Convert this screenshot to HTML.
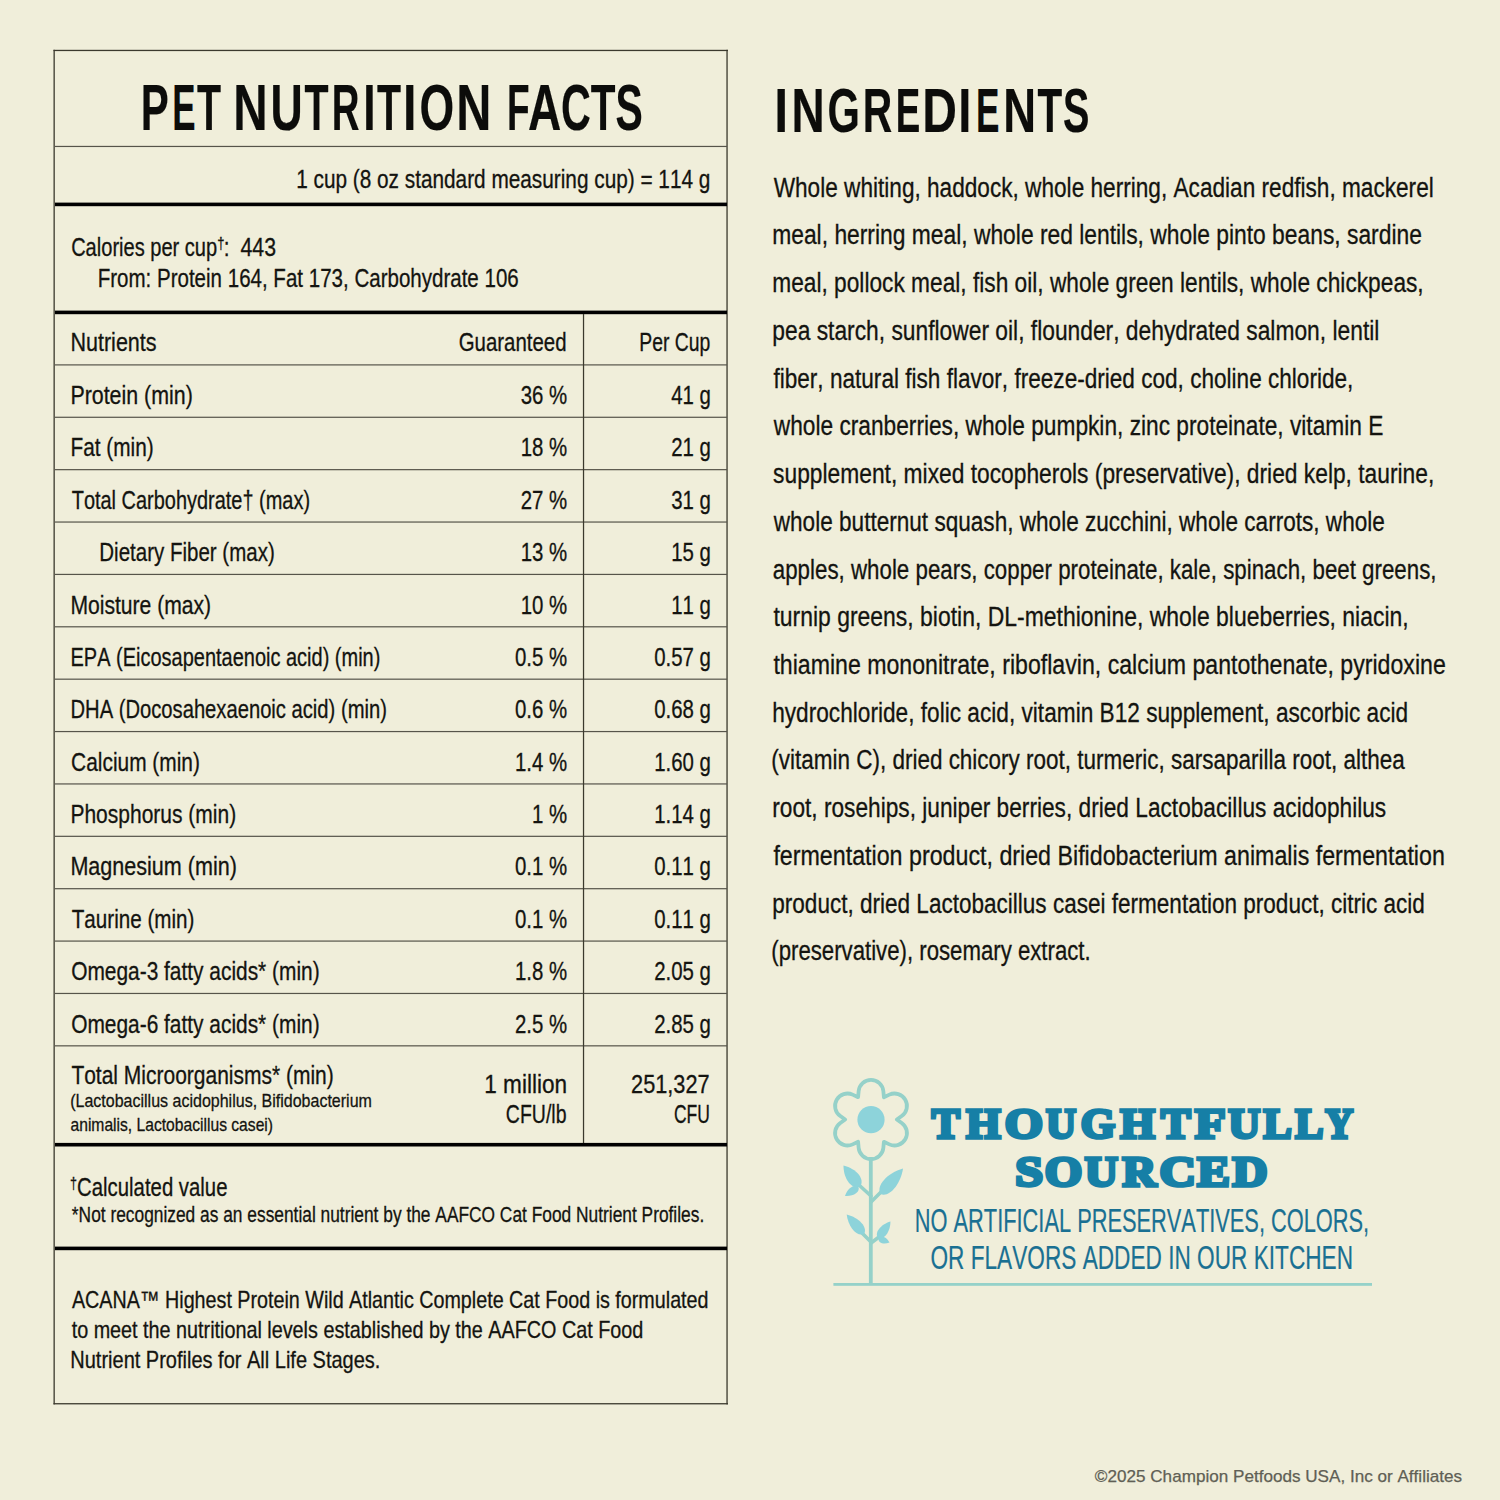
<!DOCTYPE html>
<html><head><meta charset="utf-8"><style>
html,body{margin:0;padding:0;background:#f0eeda;}
body{width:1500px;height:1500px;overflow:hidden;position:relative;}
svg{position:absolute;left:0;top:0;}
text{font-kerning:none;font-variant-ligatures:none;white-space:pre;}
</style></head><body>
<svg width="1500" height="1500" viewBox="0 0 1500 1500">
<rect x="53.5" y="49.8" width="674.5" height="1.3" fill="#3b392d"/>
<rect x="53.5" y="1403.1" width="674.5" height="1.3" fill="#3b392d"/>
<rect x="53.5" y="49.8" width="1.3" height="1354.6" fill="#3b392d"/>
<rect x="726.4" y="49.8" width="1.3" height="1354.6" fill="#3b392d"/>
<rect x="55" y="145.85" width="672" height="1.2" fill="#56544a"/>
<rect x="55" y="202.6" width="672" height="3.6" fill="#000"/>
<rect x="55" y="310.6" width="672" height="3.6" fill="#000"/>
<rect x="55" y="364.3" width="672" height="1.2" fill="#56544a"/>
<rect x="55" y="416.68" width="672" height="1.2" fill="#56544a"/>
<rect x="55" y="469.06" width="672" height="1.2" fill="#56544a"/>
<rect x="55" y="521.44" width="672" height="1.2" fill="#56544a"/>
<rect x="55" y="573.82" width="672" height="1.2" fill="#56544a"/>
<rect x="55" y="626.2" width="672" height="1.2" fill="#56544a"/>
<rect x="55" y="678.58" width="672" height="1.2" fill="#56544a"/>
<rect x="55" y="730.96" width="672" height="1.2" fill="#56544a"/>
<rect x="55" y="783.34" width="672" height="1.2" fill="#56544a"/>
<rect x="55" y="835.72" width="672" height="1.2" fill="#56544a"/>
<rect x="55" y="888.1" width="672" height="1.2" fill="#56544a"/>
<rect x="55" y="940.48" width="672" height="1.2" fill="#56544a"/>
<rect x="55" y="992.86" width="672" height="1.2" fill="#56544a"/>
<rect x="55" y="1045.24" width="672" height="1.2" fill="#56544a"/>
<rect x="582.9" y="314" width="1.25" height="829" fill="#3b392d"/>
<rect x="55" y="1142.9" width="672" height="3.6" fill="#000"/>
<rect x="55" y="1246.6" width="672" height="3.6" fill="#000"/>
<path d="M883.90 1097.16 L883.90 1097.16 L883.35 1091.16 A12.40 12.40 0 0 0 858.65 1091.16 L858.10 1097.16 L858.10 1097.16 L852.63 1094.64 A12.40 12.40 0 0 0 840.28 1116.02 L845.20 1119.50 L845.20 1119.50 L840.28 1122.98 A12.40 12.40 0 0 0 852.63 1144.36 L858.10 1141.84 L858.10 1141.84 L858.65 1147.84 A12.40 12.40 0 0 0 883.35 1147.84 L883.90 1141.84 L883.90 1141.84 L889.37 1144.36 A12.40 12.40 0 0 0 901.72 1122.98 L896.80 1119.50 L896.80 1119.50 L901.72 1116.02 A12.40 12.40 0 0 0 889.37 1094.64 L883.90 1097.16Z" fill="none" stroke="#95d1c9" stroke-width="3.8" stroke-linejoin="round"/>
<circle cx="871" cy="1119.7" r="13.6" fill="#8dd3da"/>
<rect x="868.9" y="1157" width="3.8" height="128" fill="#95d1c9"/>
<rect x="833.4" y="1283" width="538.6" height="2.8" fill="#95d1c9"/>
<path d="M871 1196 L859 1185" stroke="#95d1c9" stroke-width="3.6" stroke-linecap="round" fill="none"/>
<path d="M871 1202 L882 1191" stroke="#95d1c9" stroke-width="3.6" stroke-linecap="round" fill="none"/>
<path d="M871 1242 L862 1233" stroke="#95d1c9" stroke-width="3.6" stroke-linecap="round" fill="none"/>
<path d="M871 1243 L879 1237" stroke="#95d1c9" stroke-width="3.6" stroke-linecap="round" fill="none"/>
<path d="M860.00 1186.50 C865.37 1179.57 856.79 1168.65 843.50 1165.50 C843.41 1179.15 851.99 1190.07 860.00 1186.50 Z" fill="#8dd3da"/>
<path d="M858.50 1187.00 C854.57 1183.45 847.55 1188.13 845.00 1196.00 C853.25 1196.67 860.27 1191.99 858.50 1187.00 Z" fill="#8dd3da"/>
<path d="M880.50 1194.00 C888.98 1197.86 900.68 1184.60 903.00 1168.50 C887.32 1172.80 875.62 1186.06 880.50 1194.00 Z" fill="#8dd3da"/>
<path d="M864.00 1234.00 C868.07 1227.60 859.07 1217.46 846.70 1214.50 C848.17 1227.14 857.16 1237.28 864.00 1234.00 Z" fill="#8dd3da"/>
<path d="M878.00 1238.00 C883.95 1240.43 890.45 1231.85 890.50 1221.50 C880.55 1224.35 874.05 1232.93 878.00 1238.00 Z" fill="#8dd3da"/>
<path d="M878.50 1238.50 C877.90 1242.88 883.62 1244.96 889.50 1242.50 C886.58 1236.84 880.86 1234.76 878.50 1238.50 Z" fill="#8dd3da"/>
<text x="140.69" y="129.70" font-family="'Liberation Sans', sans-serif" font-weight="700" font-size="64.50" fill="#0c0c0a" textLength="28.05" lengthAdjust="spacingAndGlyphs"  stroke="#0c0c0a" stroke-width="0.20" stroke-linejoin="miter">P</text>
<text x="172.36" y="129.70" font-family="'Liberation Sans', sans-serif" font-weight="700" font-size="64.50" fill="#0c0c0a" textLength="23.30" lengthAdjust="spacingAndGlyphs"  stroke="#0c0c0a" stroke-width="0.20" stroke-linejoin="miter">E</text>
<text x="197.06" y="129.70" font-family="'Liberation Sans', sans-serif" font-weight="700" font-size="64.50" fill="#0c0c0a" textLength="24.07" lengthAdjust="spacingAndGlyphs"  stroke="#0c0c0a" stroke-width="0.20" stroke-linejoin="miter">T</text>
<text x="233.31" y="129.70" font-family="'Liberation Sans', sans-serif" font-weight="700" font-size="64.50" fill="#0c0c0a" textLength="34.40" lengthAdjust="spacingAndGlyphs"  stroke="#0c0c0a" stroke-width="0.20" stroke-linejoin="miter">N</text>
<text x="270.42" y="129.70" font-family="'Liberation Sans', sans-serif" font-weight="700" font-size="64.50" fill="#0c0c0a" textLength="32.20" lengthAdjust="spacingAndGlyphs"  stroke="#0c0c0a" stroke-width="0.20" stroke-linejoin="miter">U</text>
<text x="304.46" y="129.70" font-family="'Liberation Sans', sans-serif" font-weight="700" font-size="64.50" fill="#0c0c0a" textLength="24.07" lengthAdjust="spacingAndGlyphs"  stroke="#0c0c0a" stroke-width="0.20" stroke-linejoin="miter">T</text>
<text x="331.73" y="129.70" font-family="'Liberation Sans', sans-serif" font-weight="700" font-size="64.50" fill="#0c0c0a" textLength="27.76" lengthAdjust="spacingAndGlyphs"  stroke="#0c0c0a" stroke-width="0.20" stroke-linejoin="miter">R</text>
<text x="363.13" y="129.70" font-family="'Liberation Sans', sans-serif" font-weight="700" font-size="64.50" fill="#0c0c0a" textLength="12.34" lengthAdjust="spacingAndGlyphs"  stroke="#0c0c0a" stroke-width="0.20" stroke-linejoin="miter">I</text>
<text x="377.06" y="129.70" font-family="'Liberation Sans', sans-serif" font-weight="700" font-size="64.50" fill="#0c0c0a" textLength="24.07" lengthAdjust="spacingAndGlyphs"  stroke="#0c0c0a" stroke-width="0.20" stroke-linejoin="miter">T</text>
<text x="403.05" y="129.70" font-family="'Liberation Sans', sans-serif" font-weight="700" font-size="64.50" fill="#0c0c0a" textLength="13.50" lengthAdjust="spacingAndGlyphs"  stroke="#0c0c0a" stroke-width="0.20" stroke-linejoin="miter">I</text>
<text x="419.47" y="129.70" font-family="'Liberation Sans', sans-serif" font-weight="700" font-size="64.50" fill="#0c0c0a" textLength="34.70" lengthAdjust="spacingAndGlyphs"  stroke="#0c0c0a" stroke-width="0.20" stroke-linejoin="miter">O</text>
<text x="456.25" y="129.70" font-family="'Liberation Sans', sans-serif" font-weight="700" font-size="64.50" fill="#0c0c0a" textLength="35.13" lengthAdjust="spacingAndGlyphs"  stroke="#0c0c0a" stroke-width="0.20" stroke-linejoin="miter">N</text>
<text x="507.12" y="129.70" font-family="'Liberation Sans', sans-serif" font-weight="700" font-size="64.50" fill="#0c0c0a" textLength="22.64" lengthAdjust="spacingAndGlyphs"  stroke="#0c0c0a" stroke-width="0.20" stroke-linejoin="miter">F</text>
<text x="527.95" y="129.70" font-family="'Liberation Sans', sans-serif" font-weight="700" font-size="64.50" fill="#0c0c0a" textLength="33.26" lengthAdjust="spacingAndGlyphs"  stroke="#0c0c0a" stroke-width="0.20" stroke-linejoin="miter">A</text>
<text x="561.11" y="129.70" font-family="'Liberation Sans', sans-serif" font-weight="700" font-size="64.50" fill="#0c0c0a" textLength="29.82" lengthAdjust="spacingAndGlyphs"  stroke="#0c0c0a" stroke-width="0.20" stroke-linejoin="miter">C</text>
<text x="590.85" y="129.70" font-family="'Liberation Sans', sans-serif" font-weight="700" font-size="64.50" fill="#0c0c0a" textLength="24.69" lengthAdjust="spacingAndGlyphs"  stroke="#0c0c0a" stroke-width="0.20" stroke-linejoin="miter">T</text>
<text x="615.42" y="129.70" font-family="'Liberation Sans', sans-serif" font-weight="700" font-size="64.50" fill="#0c0c0a" textLength="27.28" lengthAdjust="spacingAndGlyphs"  stroke="#0c0c0a" stroke-width="0.20" stroke-linejoin="miter">S</text>
<text x="296.17" y="187.80" font-family="'Liberation Sans', sans-serif" font-weight="400" font-size="25.50" fill="#141410" textLength="414.22" lengthAdjust="spacingAndGlyphs"  stroke="#141410" stroke-width="0.30" stroke-linejoin="miter">1 cup (8 oz standard measuring cup) = 114 g</text>
<text x="71.13" y="255.70" font-family="'Liberation Sans', sans-serif" font-weight="400" font-size="25.50" fill="#141410" textLength="146.06" lengthAdjust="spacingAndGlyphs"  stroke="#141410" stroke-width="0.30" stroke-linejoin="miter">Calories per cup</text>
<text x="217.27" y="248.60" font-family="'Liberation Sans', sans-serif" font-weight="400" font-size="16.00" fill="#141410" textLength="7.25" lengthAdjust="spacingAndGlyphs"  stroke="#141410" stroke-width="0.30" stroke-linejoin="miter">†</text>
<text x="223.84" y="255.70" font-family="'Liberation Sans', sans-serif" font-weight="400" font-size="25.50" fill="#141410" textLength="5.81" lengthAdjust="spacingAndGlyphs"  stroke="#141410" stroke-width="0.30" stroke-linejoin="miter">:</text>
<text x="240.46" y="255.70" font-family="'Liberation Sans', sans-serif" font-weight="400" font-size="25.50" fill="#141410" textLength="35.52" lengthAdjust="spacingAndGlyphs"  stroke="#141410" stroke-width="0.30" stroke-linejoin="miter">443</text>
<text x="97.67" y="286.60" font-family="'Liberation Sans', sans-serif" font-weight="400" font-size="25.50" fill="#141410" textLength="421.09" lengthAdjust="spacingAndGlyphs"  stroke="#141410" stroke-width="0.30" stroke-linejoin="miter">From: Protein 164, Fat 173, Carbohydrate 106</text>
<text x="70.38" y="351.40" font-family="'Liberation Sans', sans-serif" font-weight="400" font-size="25.50" fill="#141410" textLength="86.25" lengthAdjust="spacingAndGlyphs"  stroke="#141410" stroke-width="0.30" stroke-linejoin="miter">Nutrients</text>
<text x="458.72" y="351.40" font-family="'Liberation Sans', sans-serif" font-weight="400" font-size="25.50" fill="#141410" textLength="107.84" lengthAdjust="spacingAndGlyphs"  stroke="#141410" stroke-width="0.30" stroke-linejoin="miter">Guaranteed</text>
<text x="639.26" y="351.40" font-family="'Liberation Sans', sans-serif" font-weight="400" font-size="25.50" fill="#141410" textLength="71.10" lengthAdjust="spacingAndGlyphs"  stroke="#141410" stroke-width="0.30" stroke-linejoin="miter">Per Cup</text>
<text x="70.39" y="404.00" font-family="'Liberation Sans', sans-serif" font-weight="400" font-size="25.50" fill="#141410" textLength="122.48" lengthAdjust="spacingAndGlyphs"  stroke="#141410" stroke-width="0.30" stroke-linejoin="miter">Protein (min)</text>
<text x="520.68" y="404.00" font-family="'Liberation Sans', sans-serif" font-weight="400" font-size="25.50" fill="#141410" textLength="46.50" lengthAdjust="spacingAndGlyphs"  stroke="#141410" stroke-width="0.30" stroke-linejoin="miter">36 %</text>
<text x="671.16" y="404.00" font-family="'Liberation Sans', sans-serif" font-weight="400" font-size="25.50" fill="#141410" textLength="39.70" lengthAdjust="spacingAndGlyphs"  stroke="#141410" stroke-width="0.30" stroke-linejoin="miter">41 g</text>
<text x="70.44" y="456.38" font-family="'Liberation Sans', sans-serif" font-weight="400" font-size="25.50" fill="#141410" textLength="83.20" lengthAdjust="spacingAndGlyphs"  stroke="#141410" stroke-width="0.30" stroke-linejoin="miter">Fat (min)</text>
<text x="520.68" y="456.38" font-family="'Liberation Sans', sans-serif" font-weight="400" font-size="25.50" fill="#141410" textLength="46.50" lengthAdjust="spacingAndGlyphs"  stroke="#141410" stroke-width="0.30" stroke-linejoin="miter">18 %</text>
<text x="671.16" y="456.38" font-family="'Liberation Sans', sans-serif" font-weight="400" font-size="25.50" fill="#141410" textLength="39.70" lengthAdjust="spacingAndGlyphs"  stroke="#141410" stroke-width="0.30" stroke-linejoin="miter">21 g</text>
<text x="71.70" y="508.76" font-family="'Liberation Sans', sans-serif" font-weight="400" font-size="25.50" fill="#141410" textLength="238.39" lengthAdjust="spacingAndGlyphs"  stroke="#141410" stroke-width="0.30" stroke-linejoin="miter">Total Carbohydrate† (max)</text>
<text x="520.68" y="508.76" font-family="'Liberation Sans', sans-serif" font-weight="400" font-size="25.50" fill="#141410" textLength="46.50" lengthAdjust="spacingAndGlyphs"  stroke="#141410" stroke-width="0.30" stroke-linejoin="miter">27 %</text>
<text x="671.16" y="508.76" font-family="'Liberation Sans', sans-serif" font-weight="400" font-size="25.50" fill="#141410" textLength="39.70" lengthAdjust="spacingAndGlyphs"  stroke="#141410" stroke-width="0.30" stroke-linejoin="miter">31 g</text>
<text x="99.27" y="561.14" font-family="'Liberation Sans', sans-serif" font-weight="400" font-size="25.50" fill="#141410" textLength="175.45" lengthAdjust="spacingAndGlyphs"  stroke="#141410" stroke-width="0.30" stroke-linejoin="miter">Dietary Fiber (max)</text>
<text x="520.68" y="561.14" font-family="'Liberation Sans', sans-serif" font-weight="400" font-size="25.50" fill="#141410" textLength="46.50" lengthAdjust="spacingAndGlyphs"  stroke="#141410" stroke-width="0.30" stroke-linejoin="miter">13 %</text>
<text x="671.16" y="561.14" font-family="'Liberation Sans', sans-serif" font-weight="400" font-size="25.50" fill="#141410" textLength="39.70" lengthAdjust="spacingAndGlyphs"  stroke="#141410" stroke-width="0.30" stroke-linejoin="miter">15 g</text>
<text x="70.42" y="613.52" font-family="'Liberation Sans', sans-serif" font-weight="400" font-size="25.50" fill="#141410" textLength="140.74" lengthAdjust="spacingAndGlyphs"  stroke="#141410" stroke-width="0.30" stroke-linejoin="miter">Moisture (max)</text>
<text x="520.68" y="613.52" font-family="'Liberation Sans', sans-serif" font-weight="400" font-size="25.50" fill="#141410" textLength="46.50" lengthAdjust="spacingAndGlyphs"  stroke="#141410" stroke-width="0.30" stroke-linejoin="miter">10 %</text>
<text x="671.16" y="613.52" font-family="'Liberation Sans', sans-serif" font-weight="400" font-size="25.50" fill="#141410" textLength="39.70" lengthAdjust="spacingAndGlyphs"  stroke="#141410" stroke-width="0.30" stroke-linejoin="miter">11 g</text>
<text x="70.51" y="665.90" font-family="'Liberation Sans', sans-serif" font-weight="400" font-size="25.50" fill="#141410" textLength="309.88" lengthAdjust="spacingAndGlyphs"  stroke="#141410" stroke-width="0.30" stroke-linejoin="miter">EPA (Eicosapentaenoic acid) (min)</text>
<text x="515.01" y="665.90" font-family="'Liberation Sans', sans-serif" font-weight="400" font-size="25.50" fill="#141410" textLength="52.17" lengthAdjust="spacingAndGlyphs"  stroke="#141410" stroke-width="0.30" stroke-linejoin="miter">0.5 %</text>
<text x="654.15" y="665.90" font-family="'Liberation Sans', sans-serif" font-weight="400" font-size="25.50" fill="#141410" textLength="56.72" lengthAdjust="spacingAndGlyphs"  stroke="#141410" stroke-width="0.30" stroke-linejoin="miter">0.57 g</text>
<text x="70.49" y="718.28" font-family="'Liberation Sans', sans-serif" font-weight="400" font-size="25.50" fill="#141410" textLength="316.41" lengthAdjust="spacingAndGlyphs"  stroke="#141410" stroke-width="0.30" stroke-linejoin="miter">DHA (Docosahexaenoic acid) (min)</text>
<text x="515.01" y="718.28" font-family="'Liberation Sans', sans-serif" font-weight="400" font-size="25.50" fill="#141410" textLength="52.17" lengthAdjust="spacingAndGlyphs"  stroke="#141410" stroke-width="0.30" stroke-linejoin="miter">0.6 %</text>
<text x="654.15" y="718.28" font-family="'Liberation Sans', sans-serif" font-weight="400" font-size="25.50" fill="#141410" textLength="56.72" lengthAdjust="spacingAndGlyphs"  stroke="#141410" stroke-width="0.30" stroke-linejoin="miter">0.68 g</text>
<text x="71.09" y="770.66" font-family="'Liberation Sans', sans-serif" font-weight="400" font-size="25.50" fill="#141410" textLength="128.86" lengthAdjust="spacingAndGlyphs"  stroke="#141410" stroke-width="0.30" stroke-linejoin="miter">Calcium (min)</text>
<text x="515.01" y="770.66" font-family="'Liberation Sans', sans-serif" font-weight="400" font-size="25.50" fill="#141410" textLength="52.17" lengthAdjust="spacingAndGlyphs"  stroke="#141410" stroke-width="0.30" stroke-linejoin="miter">1.4 %</text>
<text x="654.15" y="770.66" font-family="'Liberation Sans', sans-serif" font-weight="400" font-size="25.50" fill="#141410" textLength="56.72" lengthAdjust="spacingAndGlyphs"  stroke="#141410" stroke-width="0.30" stroke-linejoin="miter">1.60 g</text>
<text x="70.43" y="823.04" font-family="'Liberation Sans', sans-serif" font-weight="400" font-size="25.50" fill="#141410" textLength="165.72" lengthAdjust="spacingAndGlyphs"  stroke="#141410" stroke-width="0.30" stroke-linejoin="miter">Phosphorus (min)</text>
<text x="532.03" y="823.04" font-family="'Liberation Sans', sans-serif" font-weight="400" font-size="25.50" fill="#141410" textLength="35.15" lengthAdjust="spacingAndGlyphs"  stroke="#141410" stroke-width="0.30" stroke-linejoin="miter">1 %</text>
<text x="654.15" y="823.04" font-family="'Liberation Sans', sans-serif" font-weight="400" font-size="25.50" fill="#141410" textLength="56.72" lengthAdjust="spacingAndGlyphs"  stroke="#141410" stroke-width="0.30" stroke-linejoin="miter">1.14 g</text>
<text x="70.38" y="875.42" font-family="'Liberation Sans', sans-serif" font-weight="400" font-size="25.50" fill="#141410" textLength="166.51" lengthAdjust="spacingAndGlyphs"  stroke="#141410" stroke-width="0.30" stroke-linejoin="miter">Magnesium (min)</text>
<text x="515.01" y="875.42" font-family="'Liberation Sans', sans-serif" font-weight="400" font-size="25.50" fill="#141410" textLength="52.17" lengthAdjust="spacingAndGlyphs"  stroke="#141410" stroke-width="0.30" stroke-linejoin="miter">0.1 %</text>
<text x="654.15" y="875.42" font-family="'Liberation Sans', sans-serif" font-weight="400" font-size="25.50" fill="#141410" textLength="56.72" lengthAdjust="spacingAndGlyphs"  stroke="#141410" stroke-width="0.30" stroke-linejoin="miter">0.11 g</text>
<text x="71.69" y="927.80" font-family="'Liberation Sans', sans-serif" font-weight="400" font-size="25.50" fill="#141410" textLength="122.74" lengthAdjust="spacingAndGlyphs"  stroke="#141410" stroke-width="0.30" stroke-linejoin="miter">Taurine (min)</text>
<text x="515.01" y="927.80" font-family="'Liberation Sans', sans-serif" font-weight="400" font-size="25.50" fill="#141410" textLength="52.17" lengthAdjust="spacingAndGlyphs"  stroke="#141410" stroke-width="0.30" stroke-linejoin="miter">0.1 %</text>
<text x="654.15" y="927.80" font-family="'Liberation Sans', sans-serif" font-weight="400" font-size="25.50" fill="#141410" textLength="56.72" lengthAdjust="spacingAndGlyphs"  stroke="#141410" stroke-width="0.30" stroke-linejoin="miter">0.11 g</text>
<text x="71.16" y="980.18" font-family="'Liberation Sans', sans-serif" font-weight="400" font-size="25.50" fill="#141410" textLength="248.49" lengthAdjust="spacingAndGlyphs"  stroke="#141410" stroke-width="0.30" stroke-linejoin="miter">Omega-3 fatty acids* (min)</text>
<text x="515.01" y="980.18" font-family="'Liberation Sans', sans-serif" font-weight="400" font-size="25.50" fill="#141410" textLength="52.17" lengthAdjust="spacingAndGlyphs"  stroke="#141410" stroke-width="0.30" stroke-linejoin="miter">1.8 %</text>
<text x="654.15" y="980.18" font-family="'Liberation Sans', sans-serif" font-weight="400" font-size="25.50" fill="#141410" textLength="56.72" lengthAdjust="spacingAndGlyphs"  stroke="#141410" stroke-width="0.30" stroke-linejoin="miter">2.05 g</text>
<text x="71.16" y="1032.56" font-family="'Liberation Sans', sans-serif" font-weight="400" font-size="25.50" fill="#141410" textLength="248.49" lengthAdjust="spacingAndGlyphs"  stroke="#141410" stroke-width="0.30" stroke-linejoin="miter">Omega-6 fatty acids* (min)</text>
<text x="515.01" y="1032.56" font-family="'Liberation Sans', sans-serif" font-weight="400" font-size="25.50" fill="#141410" textLength="52.17" lengthAdjust="spacingAndGlyphs"  stroke="#141410" stroke-width="0.30" stroke-linejoin="miter">2.5 %</text>
<text x="654.15" y="1032.56" font-family="'Liberation Sans', sans-serif" font-weight="400" font-size="25.50" fill="#141410" textLength="56.72" lengthAdjust="spacingAndGlyphs"  stroke="#141410" stroke-width="0.30" stroke-linejoin="miter">2.85 g</text>
<text x="71.38" y="1083.80" font-family="'Liberation Sans', sans-serif" font-weight="400" font-size="25.50" fill="#141410" textLength="262.37" lengthAdjust="spacingAndGlyphs"  stroke="#141410" stroke-width="0.30" stroke-linejoin="miter">Total Microorganisms* (min)</text>
<text x="70.16" y="1107.20" font-family="'Liberation Sans', sans-serif" font-weight="400" font-size="19.00" fill="#141410" textLength="301.75" lengthAdjust="spacingAndGlyphs"  stroke="#141410" stroke-width="0.30" stroke-linejoin="miter">(Lactobacillus acidophilus, Bifidobacterium</text>
<text x="70.49" y="1131.30" font-family="'Liberation Sans', sans-serif" font-weight="400" font-size="19.00" fill="#141410" textLength="202.53" lengthAdjust="spacingAndGlyphs"  stroke="#141410" stroke-width="0.30" stroke-linejoin="miter">animalis, Lactobacillus casei)</text>
<text x="484.23" y="1092.50" font-family="'Liberation Sans', sans-serif" font-weight="400" font-size="25.50" fill="#141410" textLength="82.89" lengthAdjust="spacingAndGlyphs"  stroke="#141410" stroke-width="0.30" stroke-linejoin="miter">1 million</text>
<text x="505.86" y="1123.00" font-family="'Liberation Sans', sans-serif" font-weight="400" font-size="25.50" fill="#141410" textLength="60.61" lengthAdjust="spacingAndGlyphs"  stroke="#141410" stroke-width="0.30" stroke-linejoin="miter">CFU/lb</text>
<text x="631.06" y="1092.50" font-family="'Liberation Sans', sans-serif" font-weight="400" font-size="25.50" fill="#141410" textLength="78.59" lengthAdjust="spacingAndGlyphs"  stroke="#141410" stroke-width="0.30" stroke-linejoin="miter">251,327</text>
<text x="673.96" y="1123.00" font-family="'Liberation Sans', sans-serif" font-weight="400" font-size="25.50" fill="#141410" textLength="35.94" lengthAdjust="spacingAndGlyphs"  stroke="#141410" stroke-width="0.30" stroke-linejoin="miter">CFU</text>
<text x="70.00" y="1188.80" font-family="'Liberation Sans', sans-serif" font-weight="400" font-size="16.00" fill="#141410" textLength="6.99" lengthAdjust="spacingAndGlyphs"  stroke="#141410" stroke-width="0.30" stroke-linejoin="miter">†</text>
<text x="77.12" y="1195.70" font-family="'Liberation Sans', sans-serif" font-weight="400" font-size="25.50" fill="#141410" textLength="150.34" lengthAdjust="spacingAndGlyphs"  stroke="#141410" stroke-width="0.30" stroke-linejoin="miter">Calculated value</text>
<text x="71.87" y="1222.00" font-family="'Liberation Sans', sans-serif" font-weight="400" font-size="22.00" fill="#141410" textLength="632.36" lengthAdjust="spacingAndGlyphs"  stroke="#141410" stroke-width="0.30" stroke-linejoin="miter">*Not recognized as an essential nutrient by the AAFCO Cat Food Nutrient Profiles.</text>
<text x="71.91" y="1308.00" font-family="'Liberation Sans', sans-serif" font-weight="400" font-size="24.00" fill="#141410" textLength="636.61" lengthAdjust="spacingAndGlyphs"  stroke="#141410" stroke-width="0.30" stroke-linejoin="miter">ACANA™ Highest Protein Wild Atlantic Complete Cat Food is formulated</text>
<text x="71.65" y="1337.80" font-family="'Liberation Sans', sans-serif" font-weight="400" font-size="24.00" fill="#141410" textLength="571.67" lengthAdjust="spacingAndGlyphs"  stroke="#141410" stroke-width="0.30" stroke-linejoin="miter">to meet the nutritional levels established by the AAFCO Cat Food</text>
<text x="70.31" y="1367.80" font-family="'Liberation Sans', sans-serif" font-weight="400" font-size="24.00" fill="#141410" textLength="310.07" lengthAdjust="spacingAndGlyphs"  stroke="#141410" stroke-width="0.30" stroke-linejoin="miter">Nutrient Profiles for All Life Stages.</text>
<text x="774.26" y="131.80" font-family="'Liberation Sans', sans-serif" font-weight="700" font-size="63.30" fill="#0c0c0a" textLength="13.89" lengthAdjust="spacingAndGlyphs"  stroke="#0c0c0a" stroke-width="0.20" stroke-linejoin="miter">I</text>
<text x="791.53" y="131.80" font-family="'Liberation Sans', sans-serif" font-weight="700" font-size="63.30" fill="#0c0c0a" textLength="33.17" lengthAdjust="spacingAndGlyphs"  stroke="#0c0c0a" stroke-width="0.20" stroke-linejoin="miter">N</text>
<text x="827.59" y="131.80" font-family="'Liberation Sans', sans-serif" font-weight="700" font-size="63.30" fill="#0c0c0a" textLength="32.39" lengthAdjust="spacingAndGlyphs"  stroke="#0c0c0a" stroke-width="0.20" stroke-linejoin="miter">G</text>
<text x="862.87" y="131.80" font-family="'Liberation Sans', sans-serif" font-weight="700" font-size="63.30" fill="#0c0c0a" textLength="29.47" lengthAdjust="spacingAndGlyphs"  stroke="#0c0c0a" stroke-width="0.20" stroke-linejoin="miter">R</text>
<text x="895.64" y="131.80" font-family="'Liberation Sans', sans-serif" font-weight="700" font-size="63.30" fill="#0c0c0a" textLength="24.49" lengthAdjust="spacingAndGlyphs"  stroke="#0c0c0a" stroke-width="0.20" stroke-linejoin="miter">E</text>
<text x="922.18" y="131.80" font-family="'Liberation Sans', sans-serif" font-weight="700" font-size="63.30" fill="#0c0c0a" textLength="34.74" lengthAdjust="spacingAndGlyphs"  stroke="#0c0c0a" stroke-width="0.20" stroke-linejoin="miter">D</text>
<text x="958.34" y="131.80" font-family="'Liberation Sans', sans-serif" font-weight="700" font-size="63.30" fill="#0c0c0a" textLength="13.12" lengthAdjust="spacingAndGlyphs"  stroke="#0c0c0a" stroke-width="0.20" stroke-linejoin="miter">I</text>
<text x="976.05" y="131.80" font-family="'Liberation Sans', sans-serif" font-weight="700" font-size="63.30" fill="#0c0c0a" textLength="23.42" lengthAdjust="spacingAndGlyphs"  stroke="#0c0c0a" stroke-width="0.20" stroke-linejoin="miter">E</text>
<text x="1003.36" y="131.80" font-family="'Liberation Sans', sans-serif" font-weight="700" font-size="63.30" fill="#0c0c0a" textLength="32.80" lengthAdjust="spacingAndGlyphs"  stroke="#0c0c0a" stroke-width="0.20" stroke-linejoin="miter">N</text>
<text x="1037.45" y="131.80" font-family="'Liberation Sans', sans-serif" font-weight="700" font-size="63.30" fill="#0c0c0a" textLength="24.69" lengthAdjust="spacingAndGlyphs"  stroke="#0c0c0a" stroke-width="0.20" stroke-linejoin="miter">T</text>
<text x="1063.06" y="131.80" font-family="'Liberation Sans', sans-serif" font-weight="700" font-size="63.30" fill="#0c0c0a" textLength="26.38" lengthAdjust="spacingAndGlyphs"  stroke="#0c0c0a" stroke-width="0.20" stroke-linejoin="miter">S</text>
<text x="773.65" y="196.60" font-family="'Liberation Sans', sans-serif" font-weight="400" font-size="27.00" fill="#141410" textLength="660.11" lengthAdjust="spacingAndGlyphs"  stroke="#141410" stroke-width="0.30" stroke-linejoin="miter">Whole whiting, haddock, whole herring, Acadian redfish, mackerel</text>
<text x="772.23" y="244.34" font-family="'Liberation Sans', sans-serif" font-weight="400" font-size="27.00" fill="#141410" textLength="649.63" lengthAdjust="spacingAndGlyphs"  stroke="#141410" stroke-width="0.30" stroke-linejoin="miter">meal, herring meal, whole red lentils, whole pinto beans, sardine</text>
<text x="772.24" y="292.08" font-family="'Liberation Sans', sans-serif" font-weight="400" font-size="27.00" fill="#141410" textLength="651.45" lengthAdjust="spacingAndGlyphs"  stroke="#141410" stroke-width="0.30" stroke-linejoin="miter">meal, pollock meal, fish oil, whole green lentils, whole chickpeas,</text>
<text x="772.28" y="339.82" font-family="'Liberation Sans', sans-serif" font-weight="400" font-size="27.00" fill="#141410" textLength="607.09" lengthAdjust="spacingAndGlyphs"  stroke="#141410" stroke-width="0.30" stroke-linejoin="miter">pea starch, sunflower oil, flounder, dehydrated salmon, lentil</text>
<text x="773.43" y="387.56" font-family="'Liberation Sans', sans-serif" font-weight="400" font-size="27.00" fill="#141410" textLength="579.95" lengthAdjust="spacingAndGlyphs"  stroke="#141410" stroke-width="0.30" stroke-linejoin="miter">fiber, natural fish flavor, freeze-dried cod, choline chloride,</text>
<text x="773.78" y="435.30" font-family="'Liberation Sans', sans-serif" font-weight="400" font-size="27.00" fill="#141410" textLength="609.54" lengthAdjust="spacingAndGlyphs"  stroke="#141410" stroke-width="0.30" stroke-linejoin="miter">whole cranberries, whole pumpkin, zinc proteinate, vitamin E</text>
<text x="773.12" y="483.04" font-family="'Liberation Sans', sans-serif" font-weight="400" font-size="27.00" fill="#141410" textLength="661.18" lengthAdjust="spacingAndGlyphs"  stroke="#141410" stroke-width="0.30" stroke-linejoin="miter">supplement, mixed tocopherols (preservative), dried kelp, taurine,</text>
<text x="773.78" y="530.78" font-family="'Liberation Sans', sans-serif" font-weight="400" font-size="27.00" fill="#141410" textLength="611.07" lengthAdjust="spacingAndGlyphs"  stroke="#141410" stroke-width="0.30" stroke-linejoin="miter">whole butternut squash, whole zucchini, whole carrots, whole</text>
<text x="772.80" y="578.52" font-family="'Liberation Sans', sans-serif" font-weight="400" font-size="27.00" fill="#141410" textLength="663.75" lengthAdjust="spacingAndGlyphs"  stroke="#141410" stroke-width="0.30" stroke-linejoin="miter">apples, whole pears, copper proteinate, kale, spinach, beet greens,</text>
<text x="773.40" y="626.26" font-family="'Liberation Sans', sans-serif" font-weight="400" font-size="27.00" fill="#141410" textLength="635.31" lengthAdjust="spacingAndGlyphs"  stroke="#141410" stroke-width="0.30" stroke-linejoin="miter">turnip greens, biotin, DL-methionine, whole blueberries, niacin,</text>
<text x="773.40" y="674.00" font-family="'Liberation Sans', sans-serif" font-weight="400" font-size="27.00" fill="#141410" textLength="672.38" lengthAdjust="spacingAndGlyphs"  stroke="#141410" stroke-width="0.30" stroke-linejoin="miter">thiamine mononitrate, riboflavin, calcium pantothenate, pyridoxine</text>
<text x="772.18" y="721.74" font-family="'Liberation Sans', sans-serif" font-weight="400" font-size="27.00" fill="#141410" textLength="635.93" lengthAdjust="spacingAndGlyphs"  stroke="#141410" stroke-width="0.30" stroke-linejoin="miter">hydrochloride, folic acid, vitamin B12 supplement, ascorbic acid</text>
<text x="771.26" y="769.48" font-family="'Liberation Sans', sans-serif" font-weight="400" font-size="27.00" fill="#141410" textLength="633.39" lengthAdjust="spacingAndGlyphs"  stroke="#141410" stroke-width="0.30" stroke-linejoin="miter">(vitamin C), dried chicory root, turmeric, sarsaparilla root, althea</text>
<text x="772.24" y="817.22" font-family="'Liberation Sans', sans-serif" font-weight="400" font-size="27.00" fill="#141410" textLength="613.93" lengthAdjust="spacingAndGlyphs"  stroke="#141410" stroke-width="0.30" stroke-linejoin="miter">root, rosehips, juniper berries, dried Lactobacillus acidophilus</text>
<text x="773.42" y="864.96" font-family="'Liberation Sans', sans-serif" font-weight="400" font-size="27.00" fill="#141410" textLength="671.44" lengthAdjust="spacingAndGlyphs"  stroke="#141410" stroke-width="0.30" stroke-linejoin="miter">fermentation product, dried Bifidobacterium animalis fermentation</text>
<text x="772.30" y="912.70" font-family="'Liberation Sans', sans-serif" font-weight="400" font-size="27.00" fill="#141410" textLength="652.60" lengthAdjust="spacingAndGlyphs"  stroke="#141410" stroke-width="0.30" stroke-linejoin="miter">product, dried Lactobacillus casei fermentation product, citric acid</text>
<text x="771.27" y="960.44" font-family="'Liberation Sans', sans-serif" font-weight="400" font-size="27.00" fill="#141410" textLength="319.40" lengthAdjust="spacingAndGlyphs"  stroke="#141410" stroke-width="0.30" stroke-linejoin="miter">(preservative), rosemary extract.</text>
<text x="931.69" y="1137.55" font-family="'Liberation Serif', serif" font-weight="700" font-size="42.44" fill="#167fa6" textLength="28.10" lengthAdjust="spacingAndGlyphs"  stroke="#167fa6" stroke-width="3.50" stroke-linejoin="miter">T</text>
<text x="966.30" y="1137.55" font-family="'Liberation Serif', serif" font-weight="700" font-size="42.44" fill="#167fa6" textLength="34.29" lengthAdjust="spacingAndGlyphs"  stroke="#167fa6" stroke-width="3.50" stroke-linejoin="miter">H</text>
<text x="1004.75" y="1137.55" font-family="'Liberation Serif', serif" font-weight="700" font-size="42.44" fill="#167fa6" textLength="38.20" lengthAdjust="spacingAndGlyphs"  stroke="#167fa6" stroke-width="3.50" stroke-linejoin="miter">O</text>
<text x="1046.01" y="1137.55" font-family="'Liberation Serif', serif" font-weight="700" font-size="42.44" fill="#167fa6" textLength="30.07" lengthAdjust="spacingAndGlyphs"  stroke="#167fa6" stroke-width="3.50" stroke-linejoin="miter">U</text>
<text x="1080.79" y="1137.55" font-family="'Liberation Serif', serif" font-weight="700" font-size="42.44" fill="#167fa6" textLength="34.37" lengthAdjust="spacingAndGlyphs"  stroke="#167fa6" stroke-width="3.50" stroke-linejoin="miter">G</text>
<text x="1120.19" y="1137.55" font-family="'Liberation Serif', serif" font-weight="700" font-size="42.44" fill="#167fa6" textLength="34.60" lengthAdjust="spacingAndGlyphs"  stroke="#167fa6" stroke-width="3.50" stroke-linejoin="miter">H</text>
<text x="1161.06" y="1137.55" font-family="'Liberation Serif', serif" font-weight="700" font-size="42.44" fill="#167fa6" textLength="29.56" lengthAdjust="spacingAndGlyphs"  stroke="#167fa6" stroke-width="3.50" stroke-linejoin="miter">T</text>
<text x="1195.10" y="1137.55" font-family="'Liberation Serif', serif" font-weight="700" font-size="42.44" fill="#167fa6" textLength="30.55" lengthAdjust="spacingAndGlyphs"  stroke="#167fa6" stroke-width="3.50" stroke-linejoin="miter">F</text>
<text x="1228.15" y="1137.55" font-family="'Liberation Serif', serif" font-weight="700" font-size="42.44" fill="#167fa6" textLength="32.01" lengthAdjust="spacingAndGlyphs"  stroke="#167fa6" stroke-width="3.50" stroke-linejoin="miter">U</text>
<text x="1263.53" y="1137.55" font-family="'Liberation Serif', serif" font-weight="700" font-size="42.44" fill="#167fa6" textLength="28.20" lengthAdjust="spacingAndGlyphs"  stroke="#167fa6" stroke-width="3.50" stroke-linejoin="miter">L</text>
<text x="1295.23" y="1137.55" font-family="'Liberation Serif', serif" font-weight="700" font-size="42.44" fill="#167fa6" textLength="28.09" lengthAdjust="spacingAndGlyphs"  stroke="#167fa6" stroke-width="3.50" stroke-linejoin="miter">L</text>
<text x="1325.27" y="1137.55" font-family="'Liberation Serif', serif" font-weight="700" font-size="42.44" fill="#167fa6" textLength="27.92" lengthAdjust="spacingAndGlyphs"  stroke="#167fa6" stroke-width="3.50" stroke-linejoin="miter">Y</text>
<text x="1015.29" y="1186.25" font-family="'Liberation Serif', serif" font-weight="700" font-size="42.44" fill="#167fa6" textLength="27.78" lengthAdjust="spacingAndGlyphs"  stroke="#167fa6" stroke-width="3.50" stroke-linejoin="miter">S</text>
<text x="1044.70" y="1186.25" font-family="'Liberation Serif', serif" font-weight="700" font-size="42.44" fill="#167fa6" textLength="37.51" lengthAdjust="spacingAndGlyphs"  stroke="#167fa6" stroke-width="3.50" stroke-linejoin="miter">O</text>
<text x="1084.81" y="1186.25" font-family="'Liberation Serif', serif" font-weight="700" font-size="42.44" fill="#167fa6" textLength="33.08" lengthAdjust="spacingAndGlyphs"  stroke="#167fa6" stroke-width="3.50" stroke-linejoin="miter">U</text>
<text x="1122.45" y="1186.25" font-family="'Liberation Serif', serif" font-weight="700" font-size="42.44" fill="#167fa6" textLength="33.79" lengthAdjust="spacingAndGlyphs"  stroke="#167fa6" stroke-width="3.50" stroke-linejoin="miter">R</text>
<text x="1159.50" y="1186.25" font-family="'Liberation Serif', serif" font-weight="700" font-size="42.44" fill="#167fa6" textLength="36.28" lengthAdjust="spacingAndGlyphs"  stroke="#167fa6" stroke-width="3.50" stroke-linejoin="miter">C</text>
<text x="1197.32" y="1186.25" font-family="'Liberation Serif', serif" font-weight="700" font-size="42.44" fill="#167fa6" textLength="32.53" lengthAdjust="spacingAndGlyphs"  stroke="#167fa6" stroke-width="3.50" stroke-linejoin="miter">E</text>
<text x="1232.60" y="1186.25" font-family="'Liberation Serif', serif" font-weight="700" font-size="42.44" fill="#167fa6" textLength="35.02" lengthAdjust="spacingAndGlyphs"  stroke="#167fa6" stroke-width="3.50" stroke-linejoin="miter">D</text>
<text x="914.81" y="1231.80" font-family="'Liberation Sans', sans-serif" font-weight="400" font-size="33.00" fill="#1a7092" textLength="454.35" lengthAdjust="spacingAndGlyphs"  stroke="#1a7092" stroke-width="0.20" stroke-linejoin="miter">NO ARTIFICIAL PRESERVATIVES, COLORS,</text>
<text x="930.43" y="1269.40" font-family="'Liberation Sans', sans-serif" font-weight="400" font-size="33.00" fill="#1a7092" textLength="422.62" lengthAdjust="spacingAndGlyphs"  stroke="#1a7092" stroke-width="0.20" stroke-linejoin="miter">OR FLAVORS ADDED IN OUR KITCHEN</text>
<text x="1094.87" y="1481.60" font-family="'Liberation Sans', sans-serif" font-weight="400" font-size="17.00" fill="#605f55" textLength="367.23" lengthAdjust="spacingAndGlyphs"  stroke="#605f55" stroke-width="0.25" stroke-linejoin="miter">©2025 Champion Petfoods USA, Inc or Affiliates</text>
</svg>
</body></html>
